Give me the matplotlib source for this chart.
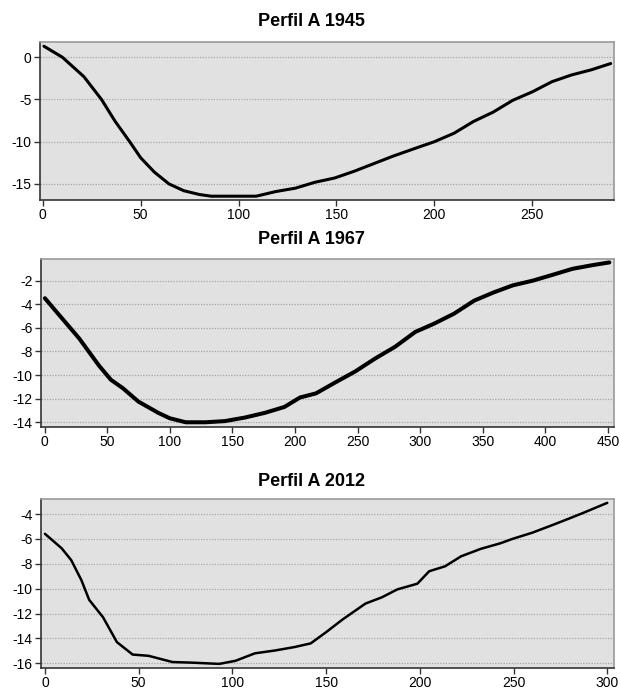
import matplotlib
matplotlib.use("Agg")
import matplotlib.pyplot as plt

# Perfil A 1945
x1945 = [0.6, 10, 21, 30, 37, 44.4, 50, 57, 64.5, 72, 80, 86, 109, 119, 129, 139,
         149, 159, 169, 179, 190, 200, 210, 220, 230, 240, 250, 260, 270, 280, 290]
y1945 = [1.3, 0.0, -2.3, -5.0, -7.6, -10.0, -11.9, -13.6, -15.0, -15.8, -16.25, -16.45,
         -16.45, -15.9, -15.5, -14.8, -14.3, -13.5, -12.6, -11.7, -10.8, -10.0, -9.0,
         -7.6, -6.5, -5.1, -4.1, -2.9, -2.1, -1.5, -0.75]

# Perfil A 1967
x1967 = [0.3, 12, 27.7, 43.5, 53, 62.4, 75, 90.8, 100, 112.8, 128.6, 144, 160, 176,
         191.6, 204, 216.8, 232.6, 248, 264, 280, 296, 311, 327, 343, 358.6, 374, 390,
         406, 421.6, 437, 451]
y1967 = [-3.49, -4.95, -6.9, -9.2, -10.4, -11.1, -12.25, -13.2, -13.66, -14.0, -14.0,
         -13.9, -13.6, -13.2, -12.7, -11.9, -11.55, -10.6, -9.7, -8.6, -7.6, -6.35,
         -5.65, -4.8, -3.7, -3.0, -2.4, -2.0, -1.5, -1.0, -0.7, -0.46]

# Perfil A 2012
x2012 = [0, 8.9, 14, 19.4, 23.6, 31, 38.4, 46.8, 55.3, 68, 78.5, 93, 101.7, 112, 122.8,
         133, 141.8, 150, 158.6, 171, 179.7, 188, 198.7, 205, 213.5, 222, 232.5, 243,
         249.4, 260, 270.5, 279, 287.3, 300]
y2012 = [-5.59, -6.75, -7.7, -9.3, -10.9, -12.3, -14.3, -15.3, -15.4, -15.9, -15.95,
         -16.05, -15.8, -15.2, -14.97, -14.7, -14.4, -13.5, -12.5, -11.2, -10.7, -10.06,
         -9.6, -8.6, -8.2, -7.4, -6.8, -6.35, -6.0, -5.5, -4.9, -4.4, -3.9, -3.1]

titulos = ["Perfil A 1945", "Perfil A 1967", "Perfil A 2012"]

plt.rcParams["font.family"] = ["Liberation Sans", "DejaVu Sans"]
plt.rcParams["axes.unicode_minus"] = False

fig = plt.figure(figsize=(6.2, 6.92), dpi=100)
W, H = 620, 692

# (left, top, right, bottom) en pixeles, baseline del titulo
cajas = [(40, 42, 614, 200, 26.5), (41, 259, 614, 427, 244), (41, 499, 614, 668, 486)]
datos = [(x1945, y1945, 2.2, (-1.4, 291.7), (-16.9, 1.8), range(-15, 1, 5), range(0, 251, 50)),
         (x1967, y1967, 2.9, (-2.8, 454.7), (-14.4, -0.17), range(-14, -1, 2), range(0, 451, 50)),
         (x2012, y2012, 1.8, (-2.1, 303.6), (-16.38, -2.79), range(-16, -3, 2), range(0, 301, 50))]

for (l, t, r, b, tb), (xs, ys, lw, xl, yl, yt, xt), tit in zip(cajas, datos, titulos):
    ax = fig.add_axes([l / W, 1 - b / H, (r - l) / W, (b - t) / H])
    ax.set_facecolor("#e1e1e1")
    ax.plot(xs, ys, color="black", lw=lw, solid_capstyle="round", solid_joinstyle="round", zorder=3)
    ax.set_xlim(*xl)
    ax.set_ylim(*yl)
    ax.set_yticks(list(yt))
    ax.set_xticks(list(xt))
    ax.yaxis.grid(True, color="#a6a6a6", linestyle=(0, (1, 1.2)), lw=0.9)
    ax.set_axisbelow(True)
    ax.tick_params(labelsize=10, length=4, width=1, pad=2, color="#333333")
    for s in ["top", "right"]:
        ax.spines[s].set_color("#9a9a9a")
        ax.spines[s].set_linewidth(1.2)
    for s in ["left", "bottom"]:
        ax.spines[s].set_color("#333333")
        ax.spines[s].set_linewidth(1.2)
    fig.text(311 / W, 1 - tb / H, tit, ha="center", va="baseline",
             fontsize=13, fontweight="bold")

fig.savefig("out.png", dpi=100, facecolor="white")
